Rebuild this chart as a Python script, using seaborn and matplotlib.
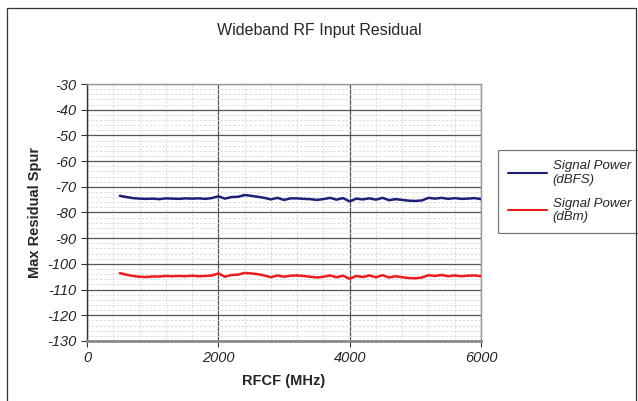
import numpy as np
import pandas as pd
import seaborn as sns
import matplotlib.pyplot as plt
from matplotlib.ticker import MultipleLocator
from matplotlib.patches import Rectangle

# RF centre frequency (MHz)
rfcf = list(range(500, 6001, 100))

# Max residual spur, dBFS
dbfs = [-73.5, -74.0, -74.4, -74.6, -74.7, -74.6, -74.8, -74.5, -74.6, -74.7,
        -74.5, -74.6, -74.5, -74.7, -74.4, -73.7, -74.6, -74.0, -73.9, -73.2,
        -73.5, -73.9, -74.3, -74.9, -74.3, -75.1, -74.5, -74.5, -74.7, -74.8,
        -75.1, -74.8, -74.3, -75.0, -74.4, -75.7, -74.6, -74.9, -74.5, -75.0,
        -74.3, -75.2, -74.8, -75.1, -75.4, -75.5, -75.3, -74.3, -74.6, -74.3,
        -74.7, -74.4, -74.7, -74.6, -74.4, -74.8]

# Max residual spur, dBm
dbm = [-103.6, -104.2, -104.7, -105.0, -105.1, -104.9, -104.9, -104.7, -104.8, -104.7,
       -104.8, -104.6, -104.8, -104.7, -104.5, -103.7, -105.0, -104.3, -104.2, -103.5,
       -103.7, -104.0, -104.5, -105.2, -104.5, -105.0, -104.6, -104.5, -104.7, -105.0,
       -105.3, -105.0, -104.5, -105.2, -104.6, -105.8, -104.7, -105.1, -104.5, -105.2,
       -104.4, -105.3, -104.8, -105.2, -105.5, -105.6, -105.3, -104.4, -104.7, -104.3,
       -104.8, -104.5, -104.8, -104.6, -104.5, -104.8]

series_names = ['Signal Power\n(dBFS)', 'Signal Power\n(dBm)']

df = pd.DataFrame({
    'RFCF': rfcf * 2,
    'Spur': dbfs + dbm,
    'Series': [series_names[0]] * len(rfcf) + [series_names[1]] * len(rfcf),
})

sns.set_style('white')
plt.rcParams['font.family'] = ['Liberation Sans', 'DejaVu Sans']
plt.rcParams['axes.unicode_minus'] = False

fig = plt.figure(figsize=(6.38, 4.01), dpi=100)
ax = fig.add_axes([87 / 638, 60 / 401, 394 / 638, 257 / 401])

# outer chart border
fig.patches.append(Rectangle((7 / 638, -0.1), 629 / 638, 1.1 - 8 / 401, transform=fig.transFigure,
                             fill=False, edgecolor='#333333', linewidth=0.9))

sns.lineplot(data=df, x='RFCF', y='Spur', hue='Series', palette=['#1f1f7a', '#ee1c1c'],
             linewidth=1.8, ax=ax, zorder=5)

ax.set_xlim(0, 6000)
ax.set_ylim(-130, -30)
ax.xaxis.set_major_locator(MultipleLocator(2000))
ax.xaxis.set_minor_locator(MultipleLocator(400))
ax.yaxis.set_major_locator(MultipleLocator(10))
ax.yaxis.set_minor_locator(MultipleLocator(2))

ax.grid(which='major', color='#555555', linewidth=0.9, linestyle='-')
ax.grid(which='minor', color='#d8d8d8', linewidth=0.6, linestyle=(0, (3, 2)))
ax.set_axisbelow(True)

for side in ['top', 'right']:
    ax.spines[side].set_color('#9a9a9a')
    ax.spines[side].set_linewidth(1.0)
ax.spines['bottom'].set_color('#8a8a8a')
ax.spines['bottom'].set_linewidth(2.0)
ax.spines['left'].set_color('#333333')
ax.spines['left'].set_linewidth(1.0)

ax.tick_params(axis='both', which='major', direction='out', length=4, width=0.8,
               color='#333333', labelsize=10.5, bottom=True, left=True)
ax.tick_params(axis='both', which='minor', length=0)
for lbl in ax.get_xticklabels() + ax.get_yticklabels():
    lbl.set_fontstyle('italic')

ax.set_xlabel('RFCF (MHz)', fontsize=10.5, fontweight='bold', labelpad=6)
ax.set_ylabel('Max Residual Spur', fontsize=10.5, fontweight='bold', labelpad=4)
fig.text(0.5, 1 - 30 / 401, 'Wideband RF Input Residual', ha='center', va='center', fontsize=11.5)

handles, labels = ax.get_legend_handles_labels()
leg = ax.legend(handles, labels, loc='upper left', bbox_to_anchor=(498 / 638, 1 - 150 / 401),
                bbox_transform=fig.transFigure, frameon=True, fancybox=False,
                edgecolor='#555555', handlelength=3.0, handletextpad=0.4,
                labelspacing=0.9, borderpad=0.75, borderaxespad=0,
                prop={'style': 'italic', 'size': 9.5})
leg.get_frame().set_linewidth(0.9)
for line in leg.get_lines():
    line.set_linewidth(1.5)

fig.savefig('out.png', dpi=100)
plt.close()
